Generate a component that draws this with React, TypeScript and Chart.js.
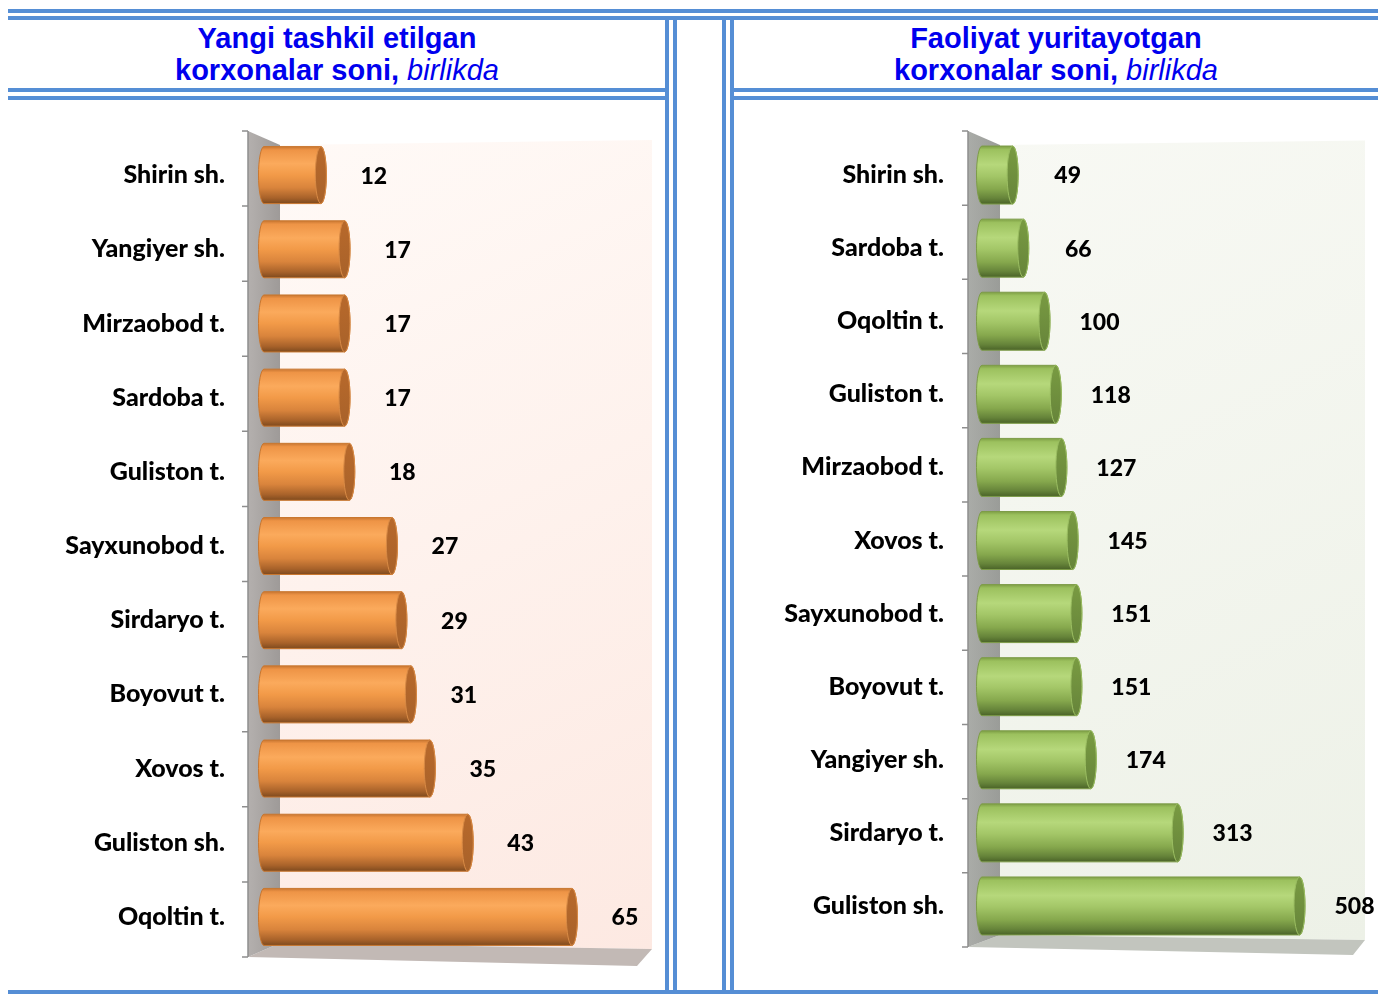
import React, { useEffect, useRef } from "react";
import { Chart, registerables } from "chart.js";

Chart.register(...registerables);

// ---------- data ----------
const leftCategories = [
  "Shirin sh.",
  "Yangiyer sh.",
  "Mirzaobod t.",
  "Sardoba t.",
  "Guliston t.",
  "Sayxunobod t.",
  "Sirdaryo t.",
  "Boyovut t.",
  "Xovos t.",
  "Guliston sh.",
  "Oqoltin t.",
];
const leftValues = [12, 17, 17, 17, 18, 27, 29, 31, 35, 43, 65];

const rightCategories = [
  "Shirin sh.",
  "Sardoba t.",
  "Oqoltin t.",
  "Guliston t.",
  "Mirzaobod t.",
  "Xovos t.",
  "Sayxunobod t.",
  "Boyovut t.",
  "Yangiyer sh.",
  "Sirdaryo t.",
  "Guliston sh.",
];
const rightValues = [49, 66, 100, 118, 127, 145, 151, 151, 174, 313, 508];

const leftTitleLine1 = "Yangi tashkil etilgan";
const leftTitleLine2 = "korxonalar soni,";
const rightTitleLine1 = "Faoliyat yuritayotgan";
const rightTitleLine2 = "korxonalar soni,";
const titleUnit = "birlikda";

const leftAxisMax = 80;
const rightAxisMax = 600;

// ---------- styles ----------
const FRAME = "#558ED5";
const FONT = "Lato, 'Open Sans', sans-serif";

type Theme = {
  stops: [number, string][];
  edge: string;
  cap: string;
  capEdge: string;
  wallA: string;
  wallB: string;
  floor: string;
  backA: string;
  backB: string;
  geo: {
    fx: number; bx: number;
    fty: number; bty: number;
    fby: number; bby: number;
    rxOff: number; rTop: number; rBot: number;
    frX: number; frY: number;
  };
  labelOffset: number;
  capRx: number;
};

const orangeTheme: Theme = {
  stops: [
    [0, "#C87632"],
    [0.06, "#EE9446"],
    [0.3, "#FBAA5C"],
    [0.5, "#F29A48"],
    [0.72, "#D9843C"],
    [0.9, "#A8622A"],
    [1, "#7E4A1E"],
  ],
  edge: "#C9772F",
  cap: "#B8692B",
  capEdge: "#D88A45",
  wallA: "#B4B0AE",
  wallB: "#9E9A98",
  floor: "#C2B9B5",
  backA: "#FFFAF7",
  backB: "#FDE9E2",
  geo: { fx: -16, bx: 16, fty: -7, bty: 7, fby: 3, bby: -11, rxOff: 9, rTop: 2, rBot: -5, frX: -6, frY: 12 },
  labelOffset: 53,
  capRx: 5.5,
};

const greenTheme: Theme = {
  stops: [
    [0, "#7E9F45"],
    [0.06, "#9CC15E"],
    [0.32, "#B6D87B"],
    [0.52, "#A3C667"],
    [0.74, "#86A84D"],
    [0.9, "#66843A"],
    [1, "#4A6328"],
  ],
  edge: "#7D9C48",
  cap: "#799B42",
  capEdge: "#9BBE62",
  wallA: "#AAACA8",
  wallB: "#9A9C98",
  floor: "#C2C5BE",
  backA: "#F8F9F4",
  backB: "#EDF1E7",
  geo: { fx: -14, bx: 18, fty: -7.5, bty: 6.5, fby: 4.5, bby: -7.5, rxOff: 8, rTop: 2, rBot: -2.5, frX: -4, frY: 12.5 },
  labelOffset: 55,
  capRx: 5.5,
};

function makeCylinderPlugin(theme: Theme) {
  return {
    id: "cyl3d",
    beforeDatasetsDraw(chart: any) {
      const { ctx, chartArea } = chart;
      const { left: L, right: R, top: T, bottom: B } = chartArea;
      const g = theme.geo;
      ctx.save();
      // back wall
      const bg = ctx.createLinearGradient(L, T, R, B);
      bg.addColorStop(0, theme.backA);
      bg.addColorStop(1, theme.backB);
      ctx.fillStyle = bg;
      ctx.beginPath();
      ctx.moveTo(L + g.bx, T + g.bty);
      ctx.lineTo(R + g.rxOff, T + g.rTop);
      ctx.lineTo(R + g.rxOff, B + g.rBot);
      ctx.lineTo(L + g.bx, B + g.bby);
      ctx.closePath();
      ctx.fill();
      // floor
      ctx.fillStyle = theme.floor;
      ctx.beginPath();
      ctx.moveTo(L + g.fx, B + g.fby);
      ctx.lineTo(L + g.bx, B + g.bby);
      ctx.lineTo(R + g.rxOff, B + g.rBot);
      ctx.lineTo(R + g.frX, B + g.frY);
      ctx.closePath();
      ctx.fill();
      // side wall
      const wg = ctx.createLinearGradient(L + g.fx, 0, L + g.bx, 0);
      wg.addColorStop(0, theme.wallA);
      wg.addColorStop(1, theme.wallB);
      ctx.fillStyle = wg;
      ctx.beginPath();
      ctx.moveTo(L + g.fx, T + g.fty);
      ctx.lineTo(L + g.bx, T + g.bty);
      ctx.lineTo(L + g.bx, B + g.bby);
      ctx.lineTo(L + g.fx, B + g.fby);
      ctx.closePath();
      ctx.fill();
      // axis line + ticks
      ctx.strokeStyle = "#8E8E8E";
      ctx.lineWidth = 1.5;
      ctx.beginPath();
      ctx.moveTo(L + g.fx, T + g.fty);
      ctx.lineTo(L + g.fx, B + g.fby);
      const n = chart.data.labels.length;
      const y0 = T + g.fty;
      const y1 = B + g.fby;
      for (let i = 0; i <= n; i++) {
        const yy = y0 + ((y1 - y0) * i) / n;
        ctx.moveTo(L + g.fx - 6, yy);
        ctx.lineTo(L + g.fx, yy);
      }
      ctx.stroke();
      ctx.restore();
    },
    afterDatasetsDraw(chart: any) {
      const { ctx } = chart;
      const meta = chart.getDatasetMeta(0);
      const values = chart.data.datasets[0].data;
      ctx.save();
      meta.data.forEach((el: any, i: number) => {
        const { x, y, base, height } = el.getProps(["x", "y", "base", "height"], true);
        const top = y - height / 2;
        const bot = y + height / 2;
        const rx = theme.capRx;
        const ry = height / 2;
        // body
        const grad = ctx.createLinearGradient(0, top, 0, bot);
        theme.stops.forEach(([o, c]) => grad.addColorStop(o, c));
        ctx.beginPath();
        ctx.moveTo(base, top);
        ctx.lineTo(x, top);
        ctx.ellipse(x, y, rx, ry, 0, -Math.PI / 2, Math.PI / 2);
        ctx.lineTo(base, bot);
        ctx.ellipse(base, y, rx, ry, 0, Math.PI / 2, (3 * Math.PI) / 2);
        ctx.closePath();
        ctx.fillStyle = grad;
        ctx.fill();
        ctx.strokeStyle = theme.edge;
        ctx.lineWidth = 1;
        ctx.stroke();
        // cap
        ctx.beginPath();
        ctx.ellipse(x, y, rx, ry, 0, 0, Math.PI * 2);
        const cg = ctx.createLinearGradient(0, top, 0, bot);
        cg.addColorStop(0, theme.cap);
        cg.addColorStop(1, theme.stops[theme.stops.length - 2][1]);
        ctx.fillStyle = cg;
        ctx.fill();
        ctx.strokeStyle = theme.capEdge;
        ctx.lineWidth = 1;
        ctx.stroke();
        // value label
        ctx.fillStyle = "#000";
        ctx.font = `900 23px ${FONT}`;
        ctx.textAlign = "center";
        ctx.textBaseline = "middle";
        ctx.fillText(String(values[i]), x + theme.labelOffset, y + 1);
      });
      ctx.restore();
    },
  };
}

type ChartProps = {
  labels: string[];
  values: number[];
  max: number;
  theme: Theme;
  width: number;
  height: number;
  left: number;
  top: number;
  axisWidth: number;
  labelPad: number;
  pad: { top: number; bottom: number; right: number };
  barThickness: number;
};

function CylinderChart(p: ChartProps) {
  const ref = useRef<HTMLCanvasElement | null>(null);
  useEffect(() => {
    if (!ref.current) return;
    const chart = new Chart(ref.current, {
      type: "bar",
      data: {
        labels: p.labels,
        datasets: [
          {
            data: p.values,
            backgroundColor: "rgba(0,0,0,0)",
            borderWidth: 0,
            barThickness: p.barThickness,
          },
        ],
      },
      options: {
        indexAxis: "y",
        animation: false,
        responsive: false,
        maintainAspectRatio: false,
        layout: { padding: { left: 0, top: p.pad.top, bottom: p.pad.bottom, right: p.pad.right } },
        plugins: { legend: { display: false }, tooltip: { enabled: false } },
        scales: {
          x: { display: false, min: 0, max: p.max },
          y: {
            grid: { display: false, drawTicks: false },
            border: { display: false },
            ticks: {
              padding: p.labelPad,
              color: "#000",
              font: { family: FONT, weight: "900", size: 25 },
            },
            afterFit: (scale: any) => {
              scale.width = p.axisWidth;
              scale.paddingTop = 0;
              scale.paddingBottom = 0;
            },
          },
        },
      },
      plugins: [makeCylinderPlugin(p.theme)],
    } as any);
    return () => chart.destroy();
  }, []);
  return (
    <canvas
      ref={ref}
      width={p.width}
      height={p.height}
      style={{ position: "absolute", left: p.left, top: p.top, width: p.width, height: p.height }}
    />
  );
}

function Line(props: { l: number; t: number; w: number; h: number }) {
  return (
    <div
      style={{
        position: "absolute",
        left: props.l,
        top: props.t,
        width: props.w,
        height: props.h,
        background: FRAME,
      }}
    />
  );
}

function Title(props: { l: number; w: number; a: string; b: string }) {
  return (
    <div
      style={{
        position: "absolute",
        left: props.l,
        top: 22,
        width: props.w,
        textAlign: "center",
        fontFamily: "'Liberation Sans', Arial, sans-serif",
        fontWeight: "bold",
        fontSize: 29,
        lineHeight: "32px",
        color: "#0000EE",
        whiteSpace: "nowrap",
      }}
    >
      <div>{props.a}</div>
      <div>
        {props.b} <span style={{ fontStyle: "italic", fontWeight: "normal" }}>{titleUnit}</span>
      </div>
    </div>
  );
}

export default function App() {
  return (
    <div
      style={{
        position: "absolute",
        left: 0,
        top: 0,
        width: 1378,
        height: 994,
        background: "#fff",
        overflow: "hidden",
      }}
    >
      {/* frame lines */}
      <Line l={8} t={9} w={1370} h={4} />
      <Line l={8} t={16} w={1370} h={4} />
      <Line l={8} t={88} w={661} h={4} />
      <Line l={8} t={96} w={661} h={4} />
      <Line l={665} t={16} w={4} h={978} />
      <Line l={673} t={16} w={4} h={978} />
      <Line l={722} t={16} w={4} h={978} />
      <Line l={730} t={16} w={4} h={978} />
      <Line l={730} t={88} w={648} h={4} />
      <Line l={730} t={96} w={648} h={4} />
      <Line l={8} t={990} w={1370} h={4} />

      <Title l={8} w={658} a={leftTitleLine1} b={leftTitleLine2} />
      <Title l={734} w={644} a={rightTitleLine1} b={rightTitleLine2} />

      <CylinderChart
        labels={leftCategories}
        values={leftValues}
        max={leftAxisMax}
        theme={orangeTheme}
        width={655}
        height={888}
        left={10}
        top={100}
        axisWidth={254}
        labelPad={39}
        pad={{ top: 38, bottom: 34, right: 22 }}
        barThickness={57}
      />
      <CylinderChart
        labels={rightCategories}
        values={rightValues}
        max={rightAxisMax}
        theme={greenTheme}
        width={644}
        height={888}
        left={734}
        top={100}
        axisWidth={248}
        labelPad={38}
        pad={{ top: 38.5, bottom: 45.5, right: 21 }}
        barThickness={58}
      />
    </div>
  );
}
